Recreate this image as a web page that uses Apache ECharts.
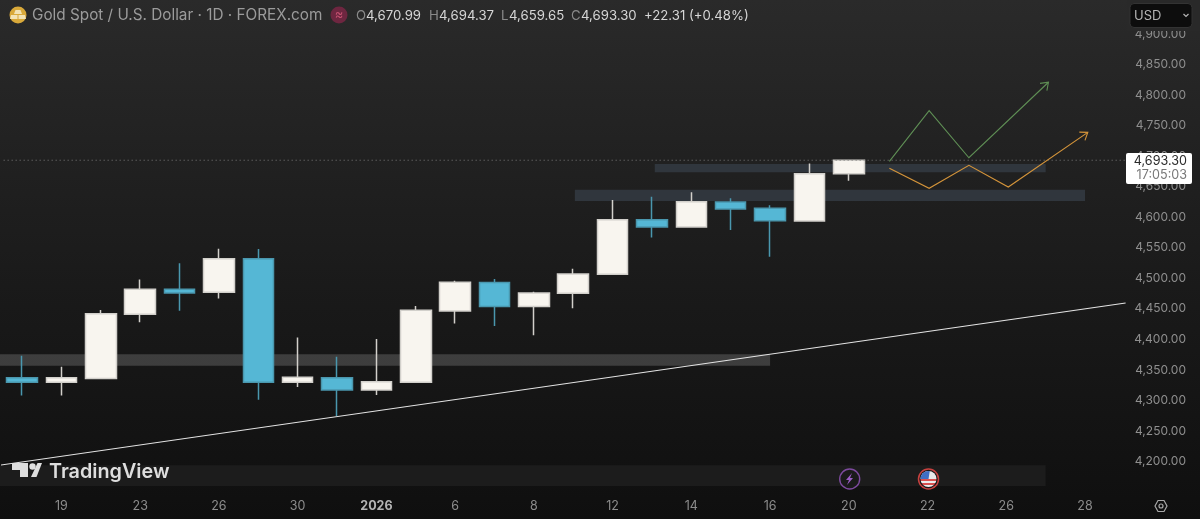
<!DOCTYPE html>
<html>
<head>
<meta charset="utf-8">
<style>html,body{margin:0;padding:0;background:#111}#chart{width:1200px;height:519px}</style>
<script src="https://cdn.jsdelivr.net/npm/echarts@6/dist/echarts.min.js"></script>
</head>
<body>
<div id="chart"></div>
<script>
// Session labels on the time axis; 2026 marks the new year.
const sessions = ['18','19','22','23','24','26','29','30','31','2026','5','6','7','8','9','12','13','14','15','16','19','20','21','22','23','26','27','28','29'];
// Daily candles as [open, close, low, high].
const candles = [
  [4337, 4330, 4308, 4373],
  [4330, 4337, 4308, 4355],
  [4336, 4442, 4336, 4448],
  [4441, 4482, 4428, 4498],
  [4482, 4476, 4447, 4524.5],
  [4477, 4532, 4467, 4548.4],
  [4532, 4330, 4301, 4548],
  [4330, 4338, 4322, 4403],
  [4337, 4317, 4274.5, 4371.6],
  [4317, 4330.6, 4309, 4400.6],
  [4330, 4447.6, 4330, 4454.6],
  [4446.4, 4493.4, 4426, 4496],
  [4493, 4454, 4422, 4499],
  [4454, 4476, 4406.6, 4478],
  [4475.4, 4507, 4451, 4515.7],
  [4506.5, 4596, 4506, 4628],
  [4596, 4584, 4567, 4633.6],
  [4584, 4625.4, 4584, 4641],
  [4625, 4613.4, 4579, 4631],
  [4614.6, 4594.3, 4535.3, 4619.5],
  [4594, 4671, 4594, 4688],
  [4670.99, 4693.30, 4659.65, 4694.37]
];
const priceTicks = [4200,4250,4300,4350,4400,4450,4500,4550,4600,4650,4700,4750,4800,4850,4900];

// Drawn levels and projections, as [session position, price].
const supportBand = [-0.57, 19, 4356.8, 4375.5];
const lowerBand = [14.04, 27, 4626.5, 4645];
const upperBand = [16.07, 26, 4673.5, 4687];
const eventStrip = [-0.57, 26, 4160, 4194];
const trendLine = [[-0.57, 4194], [28.03, 4459.5]];
const bullPath = [[22.03, 4691.5], [23.04, 4774.4], [24.05, 4697.4], [26.07, 4821]];
const basePath = [[22.03, 4680], [23.04, 4647.3], [24.05, 4685], [25.05, 4649.5], [27.07, 4739]];
const lastClose = 4693.30;
const lastChange = '+22.31 (+0.48%)';
const countdown = '17:05:03';

const money = v => v.toLocaleString('en-US', {minimumFractionDigits: 2, maximumFractionDigits: 2});

function bandSeries(bounds, color) {
  return {
    type: 'custom', xAxisIndex: 1, yAxisIndex: 0, z: 1, silent: true, clip: false,
    data: [bounds], encode: {x: [0, 1], y: [2, 3]},
    renderItem(params, api) {
      const a = api.coord([api.value(0), api.value(3)]);
      const b = api.coord([api.value(1), api.value(2)]);
      return {type: 'rect', shape: {x: a[0], y: a[1], width: b[0] - a[0], height: b[1] - a[1]}, style: {fill: color}};
    }
  };
}

// Polyline ending in an open arrow head.
function arrowSeries(path, color) {
  return {
    type: 'custom', xAxisIndex: 1, yAxisIndex: 0, z: 4, silent: true,
    data: path, encode: {x: 0, y: 1},
    renderItem(params, api) {
      if (params.dataIndex !== path.length - 1) return null;
      const pts = path.map(p => api.coord(p));
      const tip = pts[pts.length - 1], prev = pts[pts.length - 2];
      const ang = Math.atan2(tip[1] - prev[1], tip[0] - prev[0]);
      const wing = d => [tip[0] + 8.5 * Math.cos(ang + d), tip[1] + 8.5 * Math.sin(ang + d)];
      const stroke = {stroke: color, lineWidth: 1.1, fill: null};
      return {type: 'group', children: [
        {type: 'polyline', shape: {points: pts}, style: stroke},
        {type: 'polyline', shape: {points: [wing(Math.PI * 0.8), tip, wing(-Math.PI * 0.8)]}, style: stroke}
      ]};
    }
  };
}

const chart = echarts.init(document.getElementById('chart'), null, {renderer: 'canvas'});

const uiFont = 'Inter';
const headY = 15.7;
const graphics = [
  // Header row
  {type: 'circle', shape: {cx: 18, cy: 15, r: 8.5}, style: {fill: '#d9a93a'}, z: 10},
  {type: 'polygon', shape: {points: [[15.5,10],[20.5,10],[22,14],[14,14]]}, style: {fill: '#f3e3b5'}, z: 11},
  {type: 'polygon', shape: {points: [[11,15],[17.5,15],[17.5,19],[10,19]]}, style: {fill: '#f3e3b5'}, z: 11},
  {type: 'polygon', shape: {points: [[18.5,15],[25,15],[26,19],[18.5,19]]}, style: {fill: '#f3e3b5'}, z: 11},
  {type: 'text', x: 32, y: headY, style: {text: 'Gold Spot / U.S. Dollar · 1D · FOREX.com', font: '15.3px ' + uiFont, fill: '#9b9b9b', verticalAlign: 'middle'}, z: 10},
  {type: 'circle', shape: {cx: 339, cy: 15, r: 8.5}, style: {fill: '#6e2640'}, z: 10},
  {type: 'text', x: 339, y: 15, style: {text: '≈', font: '13px ' + uiFont, fill: '#c2506f', align: 'center', verticalAlign: 'middle'}, z: 11},
  {type: 'text', x: 356, y: headY, style: {text: 'O', font: '13.2px ' + uiFont, fill: '#8a8a8a', verticalAlign: 'middle'}, z: 10},
  {type: 'text', x: 366, y: headY, style: {text: money(candles[21][0]), font: '13.2px ' + uiFont, fill: '#d6d6d6', verticalAlign: 'middle'}, z: 10},
  {type: 'text', x: 429, y: headY, style: {text: 'H', font: '13.2px ' + uiFont, fill: '#8a8a8a', verticalAlign: 'middle'}, z: 10},
  {type: 'text', x: 439, y: headY, style: {text: money(candles[21][3]), font: '13.2px ' + uiFont, fill: '#d6d6d6', verticalAlign: 'middle'}, z: 10},
  {type: 'text', x: 501, y: headY, style: {text: 'L', font: '13.2px ' + uiFont, fill: '#8a8a8a', verticalAlign: 'middle'}, z: 10},
  {type: 'text', x: 509, y: headY, style: {text: money(candles[21][2]), font: '13.2px ' + uiFont, fill: '#d6d6d6', verticalAlign: 'middle'}, z: 10},
  {type: 'text', x: 571, y: headY, style: {text: 'C', font: '13.2px ' + uiFont, fill: '#8a8a8a', verticalAlign: 'middle'}, z: 10},
  {type: 'text', x: 581, y: headY, style: {text: money(candles[21][1]), font: '13.2px ' + uiFont, fill: '#d6d6d6', verticalAlign: 'middle'}, z: 10},
  {type: 'text', x: 644, y: headY, style: {text: lastChange, font: '13.2px ' + uiFont, fill: '#d6d6d6', verticalAlign: 'middle'}, z: 10},

  // Currency selector, sitting over the top of the price scale
  {type: 'rect', shape: {x: 1127, y: 0, width: 73, height: 31}, style: {fill: '#292929'}, z: 10},
  {type: 'rect', shape: {x: 1130, y: 3.5, width: 62, height: 24, r: 4}, style: {fill: '#0d0d0d', stroke: '#333333', lineWidth: 1}, z: 11},
  {type: 'text', x: 1134, y: 16, style: {text: 'USD', font: '13px ' + uiFont, fill: '#b5b5b5', verticalAlign: 'middle'}, z: 12},
  {type: 'polyline', shape: {points: [[1183.5,14],[1186,16.5],[1188.5,14]]}, style: {stroke: '#b5b5b5', lineWidth: 1.2, fill: null}, z: 12},

  // Last price flag
  {type: 'rect', shape: {x: 1126, y: 153, width: 66, height: 31, r: 2}, style: {fill: '#ffffff'}, z: 10},
  {type: 'text', x: 1187, y: 161.3, style: {text: money(lastClose), font: '12.6px ' + uiFont, fill: '#2a2a2a', align: 'right', verticalAlign: 'middle'}, z: 11},
  {type: 'text', x: 1187, y: 175.3, style: {text: countdown, font: '12.6px ' + uiFont, fill: '#777777', align: 'right', verticalAlign: 'middle'}, z: 11},

  // Watermark
  {type: 'polygon', shape: {points: [[12,463],[28,463],[28,477],[20,477],[20,470],[12,470]]}, style: {fill: '#dedede'}, z: 10},
  {type: 'circle', shape: {cx: 32.5, cy: 466.5, r: 3.2}, style: {fill: '#dedede'}, z: 10},
  {type: 'polygon', shape: {points: [[37.5,463],[42,463],[36.5,477],[31,477]]}, style: {fill: '#dedede'}, z: 10},
  {type: 'text', x: 49, y: 472.5, style: {text: 'TradingView', font: '600 19.8px ' + uiFont, fill: '#dedede', verticalAlign: 'middle'}, z: 10},

  // Event markers on the strip
  {type: 'circle', shape: {cx: 849.7, cy: 479, r: 10}, style: {fill: '#1a1a1a', stroke: '#7d4a9e', lineWidth: 1.4}, z: 10},
  {type: 'polygon', shape: {points: [[852,473],[846,480],[849,480],[847,485],[853,478],[850,478]]}, style: {fill: '#9a5cc4'}, z: 11},
  {type: 'circle', shape: {cx: 928.5, cy: 479, r: 10}, style: {fill: '#1a1a1a', stroke: '#c8413f', lineWidth: 1.5}, z: 10},
  {type: 'circle', shape: {cx: 928.5, cy: 479, r: 8}, style: {fill: {type: 'linear', x: 0, y: 0, x2: 0, y2: 1, colorStops: [
    {offset: 0, color: '#e8e8e8'}, {offset: 0.5, color: '#e8e8e8'}, {offset: 0.5, color: '#d9504f'}, {offset: 0.62, color: '#d9504f'},
    {offset: 0.62, color: '#ededed'}, {offset: 0.74, color: '#ededed'}, {offset: 0.74, color: '#d9504f'}, {offset: 0.88, color: '#d9504f'},
    {offset: 0.88, color: '#ededed'}, {offset: 1, color: '#ededed'}]}}, z: 11},
  {type: 'sector', shape: {cx: 928.5, cy: 479, r: 8, r0: 0, startAngle: Math.PI, endAngle: Math.PI * 1.55}, style: {fill: '#3f6fc4'}, z: 12},

  // Scale settings button
  {type: 'polygon', shape: {points: [[1155,506],[1158,500.5],[1164,500.5],[1167,506],[1164,511.5],[1158,511.5]]}, style: {fill: null, stroke: '#a8a8a8', lineWidth: 1.2}, z: 10},
  {type: 'circle', shape: {cx: 1161, cy: 506, r: 2}, style: {fill: null, stroke: '#a8a8a8', lineWidth: 1.2}, z: 10}
];

chart.setOption({
  animation: false,
  backgroundColor: {type: 'linear', x: 0, y: 0, x2: 0, y2: 1, colorStops: [
    {offset: 0, color: '#2a2a2a'}, {offset: 0.3, color: '#212121'}, {offset: 0.55, color: '#1a1a1a'},
    {offset: 0.8, color: '#141414'}, {offset: 1, color: '#0f0f0f'}]},
  grid: {left: 2.4, top: 3.46, width: 1141.7, height: 488.6},
  xAxis: [
    {
      type: 'category', data: sessions, boundaryGap: true,
      axisLine: {show: false}, axisTick: {show: false}, splitLine: {show: false},
      axisLabel: {
        interval: i => i % 2 === 1, margin: 8, color: '#8c8c8c', fontFamily: uiFont, fontSize: 12.5,
        formatter: v => v === '2026' ? '{yr|2026}' : v,
        rich: {yr: {fontWeight: 700, color: '#b4b4b4', fontFamily: uiFont, fontSize: 12.5}}
      }
    },
    {type: 'value', min: -0.5, max: 28.5, show: false, splitLine: {show: false}}
  ],
  yAxis: {
    type: 'value', position: 'right', min: 4150, max: 4950, interval: 50,
    axisLine: {show: false}, axisTick: {show: false}, splitLine: {show: false},
    axisLabel: {customValues: priceTicks, margin: 41.9, align: 'right', padding: [2, 0, 0, 0], color: '#8f8f8f', fontFamily: uiFont, fontSize: 12, formatter: money}
  },
  series: [
    bandSeries(eventStrip, '#1c1c1c'),
    bandSeries(supportBand, 'rgba(255,255,255,0.17)'),
    bandSeries(lowerBand, '#30363d'),
    bandSeries(upperBand, '#30363d'),
    {
      type: 'candlestick', xAxisIndex: 0, yAxisIndex: 0, z: 2, barWidth: 31, data: candles, silent: true,
      itemStyle: {color: '#f8f5ef', color0: '#55b7d5', borderColor: '#d2d0cb', borderColor0: '#4a97ae', borderWidth: 1.5}
    },
    {
      type: 'line', xAxisIndex: 1, yAxisIndex: 0, z: 3, symbol: 'none', silent: true, clip: false, data: trendLine,
      lineStyle: {color: '#e4e4e4', width: 1.1}
    },
    {
      type: 'line', xAxisIndex: 1, yAxisIndex: 0, z: 3, symbol: 'none', silent: true, clip: false,
      data: [[-0.57, lastClose], [28.03, lastClose]],
      lineStyle: {color: '#7a7a7a', width: 1, type: [1, 3]}
    },
    arrowSeries(bullPath, '#5f8f55'),
    arrowSeries(basePath, '#d4943a')
  ],
  graphic: graphics
});
</script>
</body>
</html>
